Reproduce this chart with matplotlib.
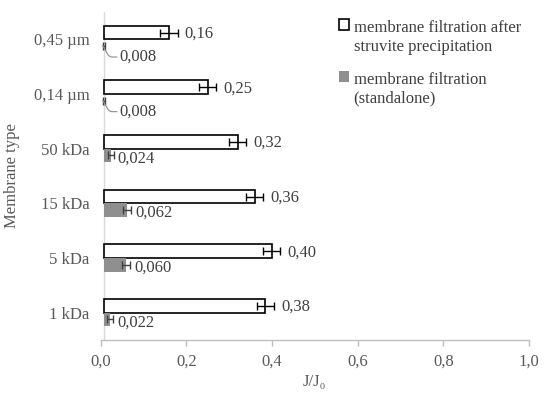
import numpy as np
import matplotlib
matplotlib.use("Agg")
import matplotlib.pyplot as plt
from matplotlib.patches import Patch

plt.rcParams['font.family'] = ['Liberation Serif', 'DejaVu Serif']
plt.rcParams['font.size'] = 12

# data, top to bottom
membranes = ['0,45 µm', '0,14 µm', '50 kDa', '15 kDa', '5 kDa', '1 kDa']
after_struvite = [0.16, 0.25, 0.32, 0.36, 0.40, 0.385]
after_err = [0.02, 0.02, 0.02, 0.02, 0.02, 0.02]
after_labels = ['0,16', '0,25', '0,32', '0,36', '0,40', '0,38']
standalone = [0.008, 0.008, 0.024, 0.062, 0.060, 0.022]
stand_err = [0.003, 0.003, 0.007, 0.009, 0.009, 0.007]
stand_labels = ['0,008', '0,008', '0,024', '0,062', '0,060', '0,022']
x_ticks = [0.0, 0.2, 0.4, 0.6, 0.8, 1.0]
x_tick_labels = ['0,0', '0,2', '0,4', '0,6', '0,8', '1,0']

axis_cross = 0.008   # excel: vertical axis crosses here
txt_col = '#404040'
tick_col = '#595959'
gray = '#8f8f8f'

fig = plt.figure(figsize=(5.5, 3.94), dpi=100)
ax = fig.add_axes([100.5 / 550, 54 / 394, 428.5 / 550, 328 / 394])

n = len(membranes)
pos = np.arange(n)[::-1].astype(float)
h = 0.247

a = np.array(after_struvite)
s = np.array(standalone)

ax.barh(pos + h / 2, a - axis_cross, height=h, left=axis_cross,
        color='white', edgecolor='black', linewidth=1.2, zorder=2)
ax.errorbar(a, pos + h / 2, xerr=after_err, fmt='none', ecolor='black',
            elinewidth=1, capsize=3, capthick=1, zorder=3)
ax.barh(pos - h / 2, s - axis_cross, height=h, left=axis_cross,
        color=gray, edgecolor='none', zorder=2)
ax.errorbar(s, pos - h / 2, xerr=stand_err, fmt='none', ecolor='#404040',
            elinewidth=1, capsize=3, capthick=1, zorder=3)

# value labels
for i in range(n):
    ax.annotate(after_labels[i], (a[i] + after_err[i], pos[i] + h / 2),
                xytext=(7, -1), textcoords='offset pixels',
                ha='left', va='center', color=txt_col)
    if standalone[i] < 0.015:
        # callout with leader line
        ax.annotate(stand_labels[i], (s[i] - 0.003, pos[i] - h / 2 + 0.01),
                    xytext=(0.045, pos[i] - h / 2 - 0.2),
                    ha='left', va='center', color=txt_col,
                    arrowprops=dict(arrowstyle='-', color='#8c8c8c', lw=0.8,
                                    shrinkA=0, shrinkB=0,
                                    connectionstyle='angle,angleA=180,angleB=-60,rad=3'))
    else:
        ax.annotate(stand_labels[i], (s[i] + stand_err[i], pos[i] - h / 2),
                    xytext=(4, -3), textcoords='offset pixels',
                    ha='left', va='center', color=txt_col)

ax.axvline(axis_cross, color='#d9d9d9', lw=1, zorder=1)

ax.set_xlim(0, 1)
ax.set_ylim(-0.5, n - 0.5)
ax.set_yticks(pos)
ax.set_yticklabels(membranes, color=tick_col)
ax.tick_params(axis='y', length=0, pad=8)
ax.set_xticks(x_ticks)
ax.set_xticklabels(x_tick_labels, color=tick_col)
ax.tick_params(axis='x', direction='out', length=4, width=1, colors='#bfbfbf',
               labelcolor=tick_col, pad=6)

for side in ['top', 'right', 'left']:
    ax.spines[side].set_visible(False)
ax.spines['bottom'].set_color('#bfbfbf')
ax.spines['bottom'].set_linewidth(1)

ax.set_xlabel('J/J₀', color=tick_col, labelpad=3)
ax.set_ylabel('Membrane type', color=tick_col, labelpad=10)

handles = [Patch(facecolor='white', edgecolor='black', linewidth=1.2),
           Patch(facecolor=gray, edgecolor='none')]
leg = ax.legend(handles, ['membrane filtration after\nstruvite precipitation',
                          'membrane filtration\n(standalone)'],
                loc='upper left', bbox_to_anchor=(0.54, 1.035), frameon=False,
                handlelength=0.6, handleheight=0.6, handletextpad=0.3,
                labelspacing=1.05, borderaxespad=0)
for t in leg.get_texts():
    t.set_color(txt_col)
    t.set_va('center')

fig.savefig('out.png', dpi=100)
